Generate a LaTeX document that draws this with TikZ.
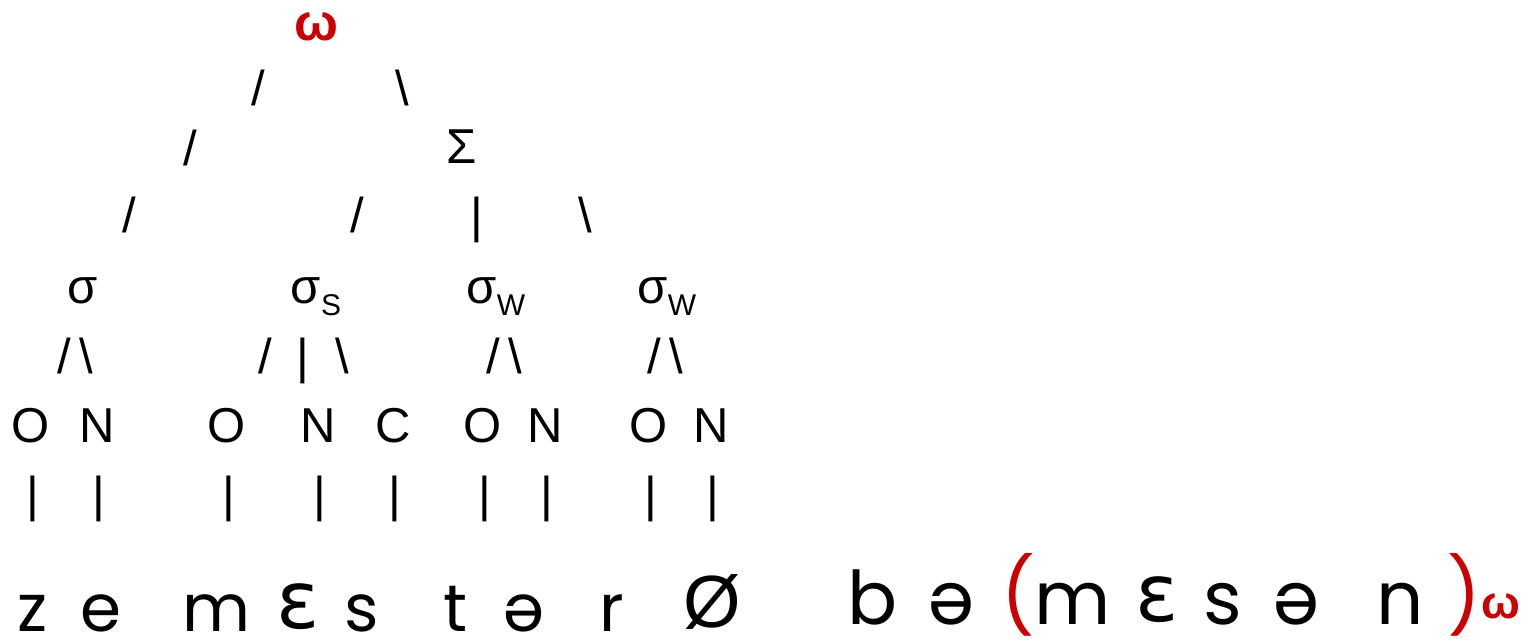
\documentclass[tikz,border=0pt]{standalone}
\usepackage{fontspec}
\setmainfont{Liberation Sans}
\newfontfamily\geofont{Poppins}
\newfontfamily\ipafont{DejaVu Sans}
\usepackage{xcolor}
\usetikzlibrary{positioning}
\definecolor{wordred}{RGB}{204,0,0}
\newcommand{\lowsub}[1]{\raisebox{-12pt}{\fontsize{30}{30}\selectfont #1}}
\newcommand{\opene}{\raisebox{3pt}{\ipafont\fontsize{80}{80}\selectfont ɛ}}

\begin{document}
\begin{tikzpicture}[x=1pt, y=-1pt,
  every node/.style={inner sep=0pt, outer sep=0pt, anchor=base},
  tree/.style={font=\fontsize{49}{52}\selectfont},
  segl/.style={font=\geofont\fontsize{66}{68}\selectfont, text depth=0pt},
  segr/.style={font=\geofont\fontsize{74}{76}\selectfont, text depth=0pt},
  wordmark/.style={text=wordred, font=\fontsize{#1}{#1}\selectfont\bfseries}]
  \useasboundingbox (0,0) rectangle (1526,642);
  % prosodic word and foot
  \node[wordmark=52] (wd) at (316,41) {ω};
  \node[tree] (br2a) at (258,105) {/};
  \node[tree] (br2b) at (402,105) {\textbackslash};
  \node[tree] (br3a) at (190,165) {/};
  \node[tree] (ft) at (462,163) {Σ};
  \foreach \x/\g [count=\k] in {129/{/}, 357/{/}, 477/|, 585/\textbackslash}{
    \node[tree] (br4-\k) at (\x,232) {\g};
  }
  % syllables
  \node[tree] (syl1) at (83,303) {σ};
  \node[tree] (syl2) at (316,303) {σ\lowsub{S}};
  \node[tree] (syl3) at (496,303) {σ\lowsub{W}};
  \node[tree] (syl4) at (667,303) {σ\lowsub{W}};
  \foreach \x/\g [count=\k] in {64/{/}, 86/\textbackslash, 265/{/}, 303/|, 342/\textbackslash,
                                493/{/}, 515/\textbackslash, 654/{/}, 676/\textbackslash}{
    \node[tree] (br5-\k) at (\x,373) {\g};
  }
  % onsets, nuclei, codas
  \foreach \x/\g [count=\k] in {31/O, 97/N, 227/O, 318/N, 393/C, 483/O, 545/N, 649/O, 711/N}{
    \node[tree] (con\k) at (\x,442) {\g};
    \node[tree] (bar\k) at ({\x+2},511) {|};
  }
  % segments
  \foreach \x/\s [count=\k] in {33/z, 101/e, 216/m, 298/\opene, 362/s, 456/t, 524/ə, 612/r}{
    \node[segl] (sga\k) at (\x,631) {\s};
  }
  \node[font=\fontsize{74}{76}\selectfont, text depth=0pt] (null) at (712,627) {Ø};
  \foreach \x/\s [count=\k] in {873/b, 951/ə, 1073/m, 1157/\opene, 1223/s, 1296/ə, 1400/n}{
    \node[segr] (sgb\k) at (\x,624) {\s};
  }
  \node[segr, text=wordred] (lpar) at (1018,622) {(};
  \node[segr, text=wordred] (rpar) at (1464,622) {)};
  \node[wordmark=46] (wdsub) at (1501,618) {ω};
\end{tikzpicture}
\end{document}
